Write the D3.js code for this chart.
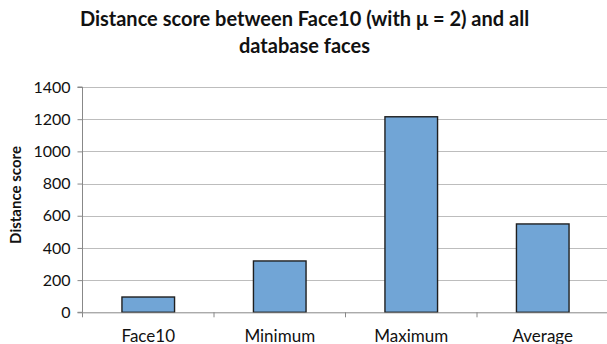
<!DOCTYPE html>
<html>
<head>
<meta charset="utf-8">
<script src="https://cdn.jsdelivr.net/npm/d3@7"></script>
<style>
  html, body { margin: 0; padding: 0; background: #fff; }
  svg { display: block; font-family: Lato, "Open Sans", sans-serif; }
</style>
</head>
<body>
<svg id="chart" width="607" height="344"></svg>
<script>
// Distance scores for Face10 against the face database
const categories = ["Face10", "Minimum", "Maximum", "Average"];
const scores = [95, 319, 1215, 549];
const yTicks = [0, 200, 400, 600, 800, 1000, 1200, 1400];
const titleLines = ["Distance score between Face10 (with \u03bc = 2) and all", "database faces"];
const yLabel = "Distance score";

const svg = d3.select("#chart");
const margin = { left: 82.5 };
const W = 607;
const xStep = 131.5;

const x = d3.scaleBand()
  .domain(categories)
  .range([margin.left, margin.left + categories.length * xStep])
  .paddingInner(0.6)
  .paddingOuter(0.3);

const y = d3.scaleLinear()
  .domain([0, 1400])
  .range([312.3, 87]);

// horizontal gridlines
svg.append("g")
  .selectAll("line")
  .data(yTicks.filter(d => d > 0))
  .join("line")
  .attr("x1", margin.left)
  .attr("x2", W)
  .attr("y1", d => Math.round(y(d)) + 0.5)
  .attr("y2", d => Math.round(y(d)) + 0.5)
  .attr("stroke", "#bdbdbd")
  .attr("stroke-width", 1);

// bars
svg.append("g")
  .selectAll("rect")
  .data(scores)
  .join("rect")
  .attr("x", (d, i) => x(categories[i]))
  .attr("y", d => y(d))
  .attr("width", x.bandwidth())
  .attr("height", d => y(0) - y(d))
  .attr("fill", "#71a5d6")
  .attr("stroke", "#1f1f1f")
  .attr("stroke-width", 1.4);

// y axis
const yAxis = d3.axisLeft(y).tickValues(yTicks).tickSize(5).tickPadding(7).tickFormat(d3.format("d"));
const gy = svg.append("g")
  .attr("transform", `translate(${margin.left},0)`)
  .call(yAxis);
gy.select(".domain").attr("stroke", "#888").attr("d", `M-5,${y(0)}H0V${y(1400)}H-5`);
gy.selectAll(".tick line").attr("stroke", "#888");
gy.selectAll(".tick text").attr("font-size", 16).attr("fill", "#111")
  .attr("font-family", "Lato, sans-serif");

// x axis with boundary ticks between categories
const gx = svg.append("g")
  .attr("transform", `translate(0,${y(0)})`);
gx.append("line")
  .attr("x1", margin.left).attr("x2", W)
  .attr("y1", 0.5).attr("y2", 0.5)
  .attr("stroke", "#888");
gx.selectAll("line.tk")
  .data(d3.range(categories.length + 1))
  .join("line")
  .attr("class", "tk")
  .attr("x1", i => margin.left + i * xStep)
  .attr("x2", i => margin.left + i * xStep)
  .attr("y1", 0).attr("y2", 5)
  .attr("stroke", "#888");
gx.selectAll("text")
  .data(categories)
  .join("text")
  .attr("x", d => x(d) + x.bandwidth() / 2)
  .attr("y", 29.5)
  .attr("text-anchor", "middle")
  .attr("font-size", 17)
  .attr("fill", "#111")
  .text(d => d);

// y axis title
svg.append("text")
  .attr("transform", "translate(20.5,195) rotate(-90)")
  .attr("text-anchor", "middle")
  .attr("font-size", 15)
  .attr("font-weight", "bold")
  .attr("fill", "#111")
  .text(yLabel);

// chart title
svg.append("g")
  .selectAll("text")
  .data(titleLines)
  .join("text")
  .attr("x", 304.5)
  .attr("y", (d, i) => 26 + i * 26.5)
  .attr("text-anchor", "middle")
  .attr("font-size", 20)
  .attr("font-weight", "bold")
  .attr("fill", "#111")
  .text(d => d);
</script>
</body>
</html>
